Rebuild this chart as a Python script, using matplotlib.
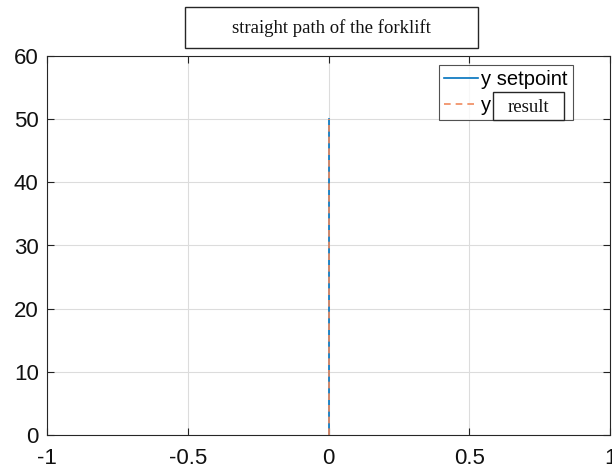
import matplotlib
matplotlib.use("Agg")
import matplotlib.pyplot as plt
from matplotlib.patches import Rectangle

x_setpoint = [0, 0]
y_setpoint = [0, 50]
x_result = [0, 0]
y_result = [0, 50]

xticks = [-1, -0.5, 0, 0.5, 1]
xtick_labels = ['-1', '-0.5', '0', '0.5', '1']
yticks = [0, 10, 20, 30, 40, 50, 60]

W, H = 612, 473
fig = plt.figure(figsize=(W / 100, H / 100), dpi=100)

# axes spans almost the whole width, right side clipped like the original
left, right, top, bottom = 47, 610, 56, 435
ax = fig.add_axes([left / W, 1 - bottom / H, (right - left) / W, (bottom - top) / H])

ax.plot(x_setpoint, y_setpoint, color='#0072BD', lw=1.2, label='y setpoint')
ax.plot(x_result, y_result, color='#F08A5D', lw=1.2, ls=(0, (4, 3)), label='y  ')

ax.set_xlim(-1, 1)
ax.set_ylim(0, 60)
ax.set_xticks(xticks)
ax.set_xticklabels(xtick_labels)
ax.set_yticks(yticks)
ax.grid(True, color='#dcdcdc', lw=0.8)
ax.set_axisbelow(True)
ax.tick_params(direction='in', length=5, width=0.8, labelsize=16, colors='#222222',
               labelcolor='#111111', top=True, right=True)
ax.tick_params(axis='x', pad=9)
ax.tick_params(axis='y', pad=6)
for lab in ax.get_xticklabels() + ax.get_yticklabels():
    lab.set_fontfamily('Liberation Sans')
for s in ax.spines.values():
    s.set_color('#262626')
    s.set_linewidth(0.8)

leg = ax.legend(loc='upper left', bbox_to_anchor=((439 - left) / (right - left), (bottom - 65) / (bottom - top)),
                prop={'family': 'Liberation Sans', 'size': 14.5},
                frameon=True, fancybox=False, borderpad=0.25, labelspacing=0.35,
                handlelength=1.7, handletextpad=0.15, borderaxespad=0)
leg.get_frame().set_edgecolor('#262626')
leg.get_frame().set_linewidth(0.8)

# title box
fig.patches.append(Rectangle((185 / W, 1 - 48 / H), (478 - 185) / W, 41 / H,
                             transform=fig.transFigure, fill=False, ec='#262626', lw=1.0))
fig.text((185 + 478) / 2 / W, 1 - 28 / H, 'straight path of the forklift',
         ha='center', va='center', family='Liberation Serif', fontsize=13.5, color='#111111')

# "result" box over the legend
fig.patches.append(Rectangle((493 / W, 1 - 120 / H), (564 - 493) / W, 28 / H,
                             transform=fig.transFigure, fc='white', ec='#262626', lw=1.0, zorder=10))
fig.text((493 + 564) / 2 / W, 1 - 107 / H, 'result', ha='center', va='center',
         family='Liberation Serif', fontsize=13.5, color='#111111', zorder=11)

fig.savefig('out.png', dpi=100)
